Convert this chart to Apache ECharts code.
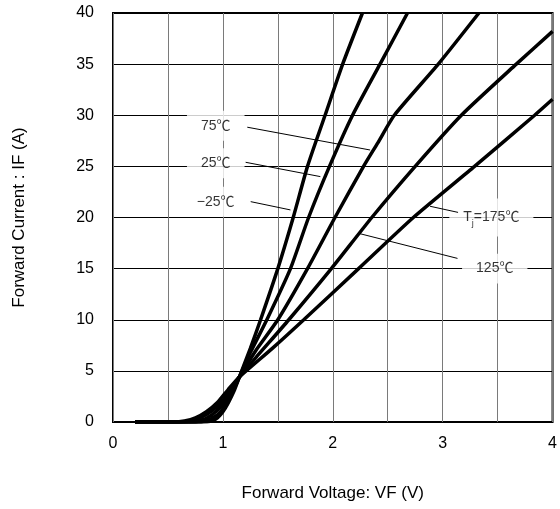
<!DOCTYPE html>
<html lang="en">
<head>
    <meta charset="UTF-8">
    <title>Forward characteristics</title>
    <script src="https://cdn.jsdelivr.net/npm/echarts@6/dist/echarts.min.js"></script>
    <style type="text/css">
        *{
            margin: 0;
            padding: 0;
        }
        #chart{
            width: 560px;
            height: 509px;
        }
    </style>
</head>
<body>
    <div id="chart"></div>
</body>
<script>
    // curves, [VF, IF]
    var tMinus25 = [[0.2,0],[0.8,0],[0.9,0.1],[0.95,0.4],[1.0,1.0],[1.05,1.9],[1.1,3.0],[1.15,4.4],[1.25,7.2],[1.343,10],[1.5,15],[1.64,20],[1.77,25],[1.93,30],[2.09,35],[2.27,40]];
    var t25 = [[0.2,0],[0.75,0],[0.85,0.15],[0.95,0.7],[1.0,1.3],[1.05,2.2],[1.1,3.2],[1.15,4.4],[1.25,6.8],[1.40,10],[1.615,15],[1.78,20],[1.97,25],[2.18,30],[2.43,35],[2.68,40]];
    var t75 = [[0.2,0],[0.7,0],[0.8,0.15],[0.9,0.7],[1.0,1.7],[1.05,2.5],[1.1,3.4],[1.15,4.4],[1.3,7.0],[1.5,10],[1.77,15],[2.02,20],[2.28,25],[2.41,27.3],[2.56,30],[2.96,35],[3.33,40]];
    var t125 = [[0.2,0],[0.6,0],[0.7,0.1],[0.8,0.45],[0.9,1.1],[1.0,2.1],[1.1,3.6],[1.15,4.4],[1.3,6.3],[1.60,10],[1.987,15],[2.355,20],[2.75,25],[3.17,30],[3.67,35],[4.0,38.2]];
    var t175 = [[0.2,0],[0.55,0],[0.65,0.1],[0.75,0.4],[0.85,1.0],[0.95,1.9],[1.05,3.2],[1.15,4.4],[1.45,7.2],[1.736,10],[2.235,15],[2.733,20],[3.29,25],[3.837,30],[4.0,31.56]];

    var xTicks = [0, 1, 2, 3, 4];
    var labelNames = ['75℃', '25℃', '−25℃', 'T{sub|j}=175℃', '125℃'];
    var labelPos = [[0.935,28.97],[0.935,25.3],[0.935,21.55],[3.443,20.0],[3.474,15.0]];
    var leaderFrom = [[1.222,28.83],[1.207,25.4],[1.253,21.55],[3.14,20.5],[3.135,16.0]];
    var leaderTo = [[2.34,26.6],[1.887,24.0],[1.615,20.74],[2.885,21.1],[2.235,18.45]];

    var font = 'Liberation Sans, Arial, Noto Sans CJK JP, sans-serif';
    var myChart = echarts.init(document.getElementById('chart'));

    var curves = [tMinus25, t25, t75, t125, t175];
    var series = [];
    for (var i = 0; i < curves.length; i++) {
        series.push({
            type: 'line',
            data: curves[i],
            symbol: 'none',
            smooth: 0.2,
            z: 4,
            lineStyle: {color: '#000', width: 3.5}
        });
    }

    var leaders = [];
    for (var i = 0; i < leaderFrom.length; i++) {
        leaders.push([{coord: leaderFrom[i]}, {coord: leaderTo[i]}]);
    }
    var labelData = [];
    for (var i = 0; i < labelNames.length; i++) {
        labelData.push({value: labelPos[i], name: labelNames[i]});
    }

    // white boxed temperature labels (they hide the grid behind them)
    series.push({
        type: 'scatter',
        data: labelData,
        symbolSize: 0,
        z: 2,
        itemStyle: {color: 'rgba(0,0,0,0)'},
        silent: true,
        label: {
            show: true,
            position: 'inside',
            formatter: function (p) { return p.name; },
            color: '#000',
            fontFamily: font,
            fontSize: 14,
            backgroundColor: '#fff',
            padding: [8, 14],
            rich: {
                sub: {fontSize: 9, fontFamily: font, color: '#000', verticalAlign: 'bottom', lineHeight: 22}
            }
        }
    });
    // leader lines
    series.push({
        type: 'line',
        data: [],
        z: 3,
        markLine: {
            silent: true,
            symbol: 'none',
            label: {show: false},
            lineStyle: {color: '#000', width: 1, type: 'solid'},
            data: leaders
        }
    });

    var option = {
        animation: false,
        backgroundColor: '#fff',
        grid: {
            left: 113, right: 5, top: 13, bottom: 87,
            show: true,
            borderColor: '#000',
            borderWidth: 2
        },
        xAxis: {
            type: 'value',
            min: 0, max: 4, interval: 0.5,
            name: 'Forward Voltage: VF (V)',
            nameLocation: 'middle',
            nameGap: 63,
            nameTextStyle: {color: '#000', fontFamily: font, fontSize: 17},
            axisLine: {show: false},
            axisTick: {show: false},
            axisLabel: {
                color: '#000', fontFamily: font, fontSize: 16, margin: 14,
                formatter: function (v) { return xTicks.indexOf(v) >= 0 ? String(v) : ''; }
            },
            splitLine: {show: true, lineStyle: {color: '#7a7a7a', width: 1}}
        },
        yAxis: {
            type: 'value',
            min: 0, max: 40, interval: 5,
            name: 'Forward Current : IF (A)',
            nameLocation: 'middle',
            nameGap: 85,
            nameTextStyle: {color: '#000', fontFamily: font, fontSize: 17},
            axisLine: {show: false},
            axisTick: {show: false},
            axisLabel: {color: '#000', fontFamily: font, fontSize: 16, margin: 19},
            splitLine: {show: true, lineStyle: {color: '#000', width: 1}}
        },
        series: series
    };
    myChart.setOption(option);
</script>
</html>
